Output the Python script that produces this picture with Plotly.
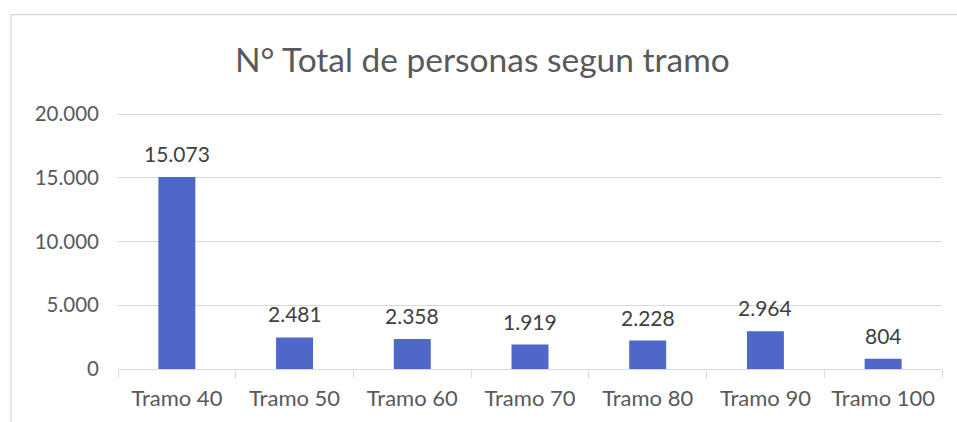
import plotly.graph_objects as go

categories = ["Tramo 40", "Tramo 50", "Tramo 60", "Tramo 70", "Tramo 80", "Tramo 90", "Tramo 100"]
values = [15073, 2481, 2358, 1919, 2228, 2964, 804]
y_ticks = [0, 5000, 10000, 15000, 20000]
title_text = "N° Total de personas segun tramo"

FONT = "Lato"
BAR = "#4F67C8"
GRID = "#D9D9D9"

fig = go.Figure(go.Bar(x=categories, y=values, marker=dict(color=BAR, line=dict(width=0)),
                       hoverinfo="x+y"))

def fmt(v):
    return f"{v:,}".replace(",", ".")

for c, v in zip(categories, values):
    fig.add_annotation(x=c, y=v, text=fmt(v), showarrow=False, yanchor="bottom",
                       yshift=9, font=dict(family=FONT, size=21, color="#404040"))

# chart-area border (extends beyond right/bottom edges as in the reference)
fig.add_shape(type="rect", xref="paper", yref="paper", x0=-0.1299, x1=1.03, y0=-0.25, y1=1.363,
              line=dict(color=GRID, width=1.3), fillcolor="rgba(0,0,0,0)", layer="below")

fig.update_layout(
    width=957, height=422,
    margin=dict(l=118, r=15, t=109, b=53),
    paper_bgcolor="white", plot_bgcolor="white",
    separators=",.",
    bargap=0.686,
    showlegend=False,
    title=dict(text=title_text, x=0.504, xref="container", xanchor="center",
               y=0.858, yref="container", yanchor="middle",
               font=dict(family=FONT, size=33.5, color="#595959")),
    xaxis=dict(type="category", showline=True, linecolor=GRID, linewidth=1,
               ticks="outside", tickson="boundaries", ticklen=8, tickcolor=GRID, tickwidth=1,
               tickfont=dict(family=FONT, size=22, color="#595959"), ticklabelstandoff=10,
               showgrid=False),
    yaxis=dict(range=[0, 20400], tickvals=y_ticks, tickformat=",d", showgrid=True,
               gridcolor=GRID, gridwidth=1, zeroline=False, showline=False, ticks="",
               tickfont=dict(family=FONT, size=20.5, color="#595959"), ticklabelstandoff=18),
)

fig.write_html("out.html", config={"displayModeBar": False},
               post_script="document.body.style.margin='0';document.body.style.overflow='hidden';")
